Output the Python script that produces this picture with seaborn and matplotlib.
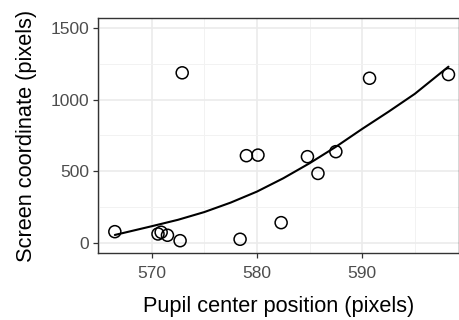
import pandas as pd
import seaborn as sns
import matplotlib.pyplot as plt
from matplotlib.ticker import MultipleLocator

# pupil center (x) vs screen coordinate (y)
pupil_x = [566.5, 570.6, 570.9, 571.5, 572.7, 572.9, 578.4, 579.0, 580.1,
           582.3, 584.8, 585.8, 587.5, 590.7, 598.2]
screen_y = [77, 61, 73, 52, 14, 1187, 24, 608, 612,
            140, 601, 484, 636, 1149, 1175]

# fitted curve
fit_x = [566.5, 570, 572.5, 575, 577.5, 580, 582.5, 585, 587.5, 590, 592.5, 595, 598.2]
fit_y = [54, 115, 160, 214, 280, 357, 450, 555, 670, 795, 915, 1040, 1230]

data = pd.DataFrame({'pupil': pupil_x, 'screen': screen_y})
fit = pd.DataFrame({'pupil': fit_x, 'screen': fit_y})

sns.set_theme(style='white')
plt.rcParams['font.family'] = ['Liberation Sans', 'DejaVu Sans']

fig = plt.figure(figsize=(4.6, 3.2), dpi=100)
ax = fig.add_axes([98 / 460, 1 - 253 / 320, 361 / 460, 235 / 320])

sns.lineplot(data=fit, x='pupil', y='screen', color='black', lw=1.5, ax=ax)
sns.scatterplot(data=data, x='pupil', y='screen', s=75, facecolor='none',
                edgecolor='black', linewidth=1.1, ax=ax, zorder=3)

ax.set_xlim(564.9, 599.2)
ax.set_ylim(-72, 1570)
ax.xaxis.set_major_locator(MultipleLocator(10))
ax.xaxis.set_minor_locator(MultipleLocator(5))
ax.yaxis.set_major_locator(MultipleLocator(500))
ax.yaxis.set_minor_locator(MultipleLocator(250))
ax.grid(which='major', color='#EBEBEB', lw=1.2)
ax.grid(which='minor', color='#F2F2F2', lw=0.7)
ax.set_axisbelow(True)
for s in ax.spines.values():
    s.set_color('#333333')
    s.set_linewidth(1.0)
ax.tick_params(which='major', direction='out', length=3.5, width=0.9, color='#333333',
               labelsize=12.5, labelcolor='#4D4D4D', pad=3,
               bottom=True, left=True)
ax.tick_params(axis='x', which='major', pad=5.5)
ax.tick_params(which='minor', length=0)

ax.set_xlabel('Pupil center position (pixels)', fontsize=15.7, color='black')
ax.set_ylabel('Screen coordinate (pixels)', fontsize=15.7, color='black')
ax.xaxis.set_label_coords(0.5, -0.185)
ax.yaxis.set_label_coords(-0.17, 0.5)

plt.savefig('out.png', dpi=100)
